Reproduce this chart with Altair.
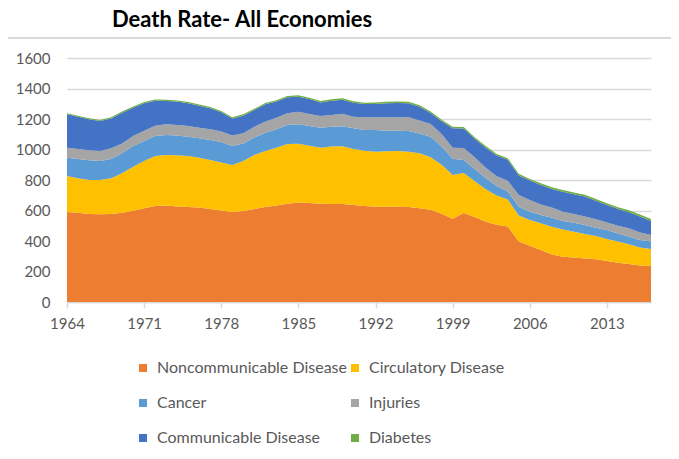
import altair as alt
import pandas as pd

years = list(range(1964, 2018))

noncommunicable = [590, 586, 577, 575, 577, 586, 599, 614, 629, 632,
                   627, 623, 619, 610, 600, 590, 597, 610, 623, 632,
                   645, 653, 649, 645, 643, 643, 636, 630, 625, 625,
                   625, 623, 614, 605, 578, 546, 583, 557, 527, 507,
                   495, 396, 369, 341, 312, 297, 291, 286, 280, 269,
                   258, 249, 240, 236]
circulatory_top = [826, 811, 800, 800, 811, 844, 887, 925, 957, 964,
                   962, 957, 946, 931, 915, 898, 925, 964, 990, 1012,
                   1036, 1038, 1025, 1012, 1019, 1021, 1003, 992, 986, 988,
                   990, 986, 975, 950, 900, 833, 846, 792, 740, 698,
                   672, 568, 538, 516, 494, 476, 461, 446, 433, 413,
                   396, 378, 358, 348]
cancer_top = [946, 938, 929, 925, 938, 975, 1023, 1056, 1089, 1095,
              1091, 1084, 1073, 1062, 1050, 1023, 1040, 1078, 1110, 1132,
              1161, 1165, 1154, 1143, 1150, 1152, 1139, 1128, 1128, 1123,
              1123, 1121, 1105, 1084, 1019, 940, 931, 872, 813, 760,
              725, 625, 592, 570, 553, 531, 520, 505, 487, 472,
              450, 428, 406, 396]
injuries_top = [1012, 1003, 995, 990, 1008, 1040, 1089, 1123, 1156, 1165,
                1161, 1154, 1143, 1132, 1118, 1091, 1106, 1150, 1183, 1209,
                1237, 1248, 1233, 1220, 1226, 1235, 1215, 1211, 1211, 1211,
                1211, 1211, 1190, 1167, 1102, 1012, 1010, 950, 880, 825,
                795, 702, 669, 640, 619, 592, 577, 560, 542, 522,
                500, 483, 455, 439]
communicable_top = [1231, 1215, 1198, 1187, 1204, 1241, 1274, 1303, 1320, 1318,
                    1314, 1303, 1287, 1270, 1245, 1204, 1222, 1259, 1296, 1314,
                    1342, 1346, 1331, 1309, 1320, 1327, 1307, 1298, 1298, 1303,
                    1305, 1303, 1280, 1240, 1185, 1139, 1138, 1070, 1012, 960,
                    932, 830, 796, 767, 741, 723, 706, 691, 664, 636,
                    610, 588, 560, 531]
diabetes = [7, 7, 7, 7, 7, 8, 8, 8, 8, 8,
            8, 8, 8, 8, 8, 8, 9, 9, 9, 9,
            9, 9, 9, 9, 9, 9, 9, 9, 10, 10,
            10, 10, 10, 10, 10, 10, 10, 10, 11, 11,
            11, 11, 11, 11, 12, 12, 12, 12, 12, 12,
            12, 13, 13, 13]

series_names = ["Noncommunicable Disease", "Circulatory Disease", "Cancer",
                "Injuries", "Communicable Disease", "Diabetes"]
series_colors = ["#ED7D31", "#FFC000", "#5B9BD5", "#A5A5A5", "#4472C4", "#70AD47"]
x_ticks = [1964, 1971, 1978, 1985, 1992, 1999, 2006, 2013]
y_ticks = [0, 200, 400, 600, 800, 1000, 1200, 1400, 1600]
chart_title = "Death Rate- All Economies"

circulatory = [b - a for a, b in zip(noncommunicable, circulatory_top)]
cancer = [b - a for a, b in zip(circulatory_top, cancer_top)]
injuries = [b - a for a, b in zip(cancer_top, injuries_top)]
communicable = [b - a for a, b in zip(injuries_top, communicable_top)]

series_values = [noncommunicable, circulatory, cancer, injuries, communicable, diabetes]

rows = []
for idx, (name, vals) in enumerate(zip(series_names, series_values)):
    for yr, v in zip(years, vals):
        rows.append({"year": yr, "series": name, "value": v, "ord": idx})
df = pd.DataFrame(rows)

# legend is filled column by column: reorder so rows read as in the original
legend_order = [0, 2, 4, 1, 3, 5]
legend_domain = [series_names[i] for i in legend_order]
legend_range = [series_colors[i] for i in legend_order]

areas = alt.Chart(df).mark_area(interpolate="linear").encode(
    x=alt.X("year:Q",
            scale=alt.Scale(domain=[1964, 2017], nice=False, zero=False),
            axis=alt.Axis(values=x_ticks, format="d", title=None, grid=False,
                          labelFlush=False,
                          domainColor="#D9D9D9", domainWidth=1.5,
                          tickColor="#D9D9D9", tickSize=6, tickWidth=1.5,
                          labelPadding=8, labelFontSize=15, labelColor="#595959",
                          labelFont="Lato")),
    y=alt.Y("value:Q", stack="zero",
            scale=alt.Scale(domain=[0, 1600], nice=False),
            axis=alt.Axis(values=y_ticks, format="d", title=None, domain=False, ticks=False,
                          gridColor="#D9D9D9", gridWidth=1.5,
                          labelPadding=17, labelFontSize=15, labelColor="#595959",
                          labelFont="Lato")),
    color=alt.Color("series:N",
                    scale=alt.Scale(domain=legend_domain, range=legend_range),
                    legend=alt.Legend(title=None, orient="none", legendX=68, legendY=302,
                                      columns=2, symbolType="square", symbolSize=64,
                                      symbolStrokeWidth=0, labelFontSize=16,
                                      labelColor="#595959", labelFont="Lato",
                                      labelLimit=400,
                                      columnPadding=-3, rowPadding=19,
                                      labelOffset=6)),
    order=alt.Order("ord:Q", sort="ascending"),
)

top_line = alt.Chart(df).mark_rule(color="#D9D9D9", strokeWidth=1.5).encode(
    x=alt.value(-60), x2=alt.value(604), y=alt.value(-20)
)

title_df = pd.DataFrame({"label": [chart_title]})
title_text = alt.Chart(title_df).mark_text(
    align="left", baseline="alphabetic", fontSize=22, font="Lato",
    fontWeight="bold", color="#000000"
).encode(
    text="label:N", x=alt.value(45), y=alt.value(-31)
)

chart = alt.layer(areas, top_line, title_text).properties(
    width=584, height=244,
    autosize=alt.AutoSizeParams(type="none"),
    padding={"left": 59, "top": 50, "right": 20, "bottom": 145},
).configure_view(stroke=None)

chart.save("out.html", embed_options={"renderer": "svg", "actions": False})
